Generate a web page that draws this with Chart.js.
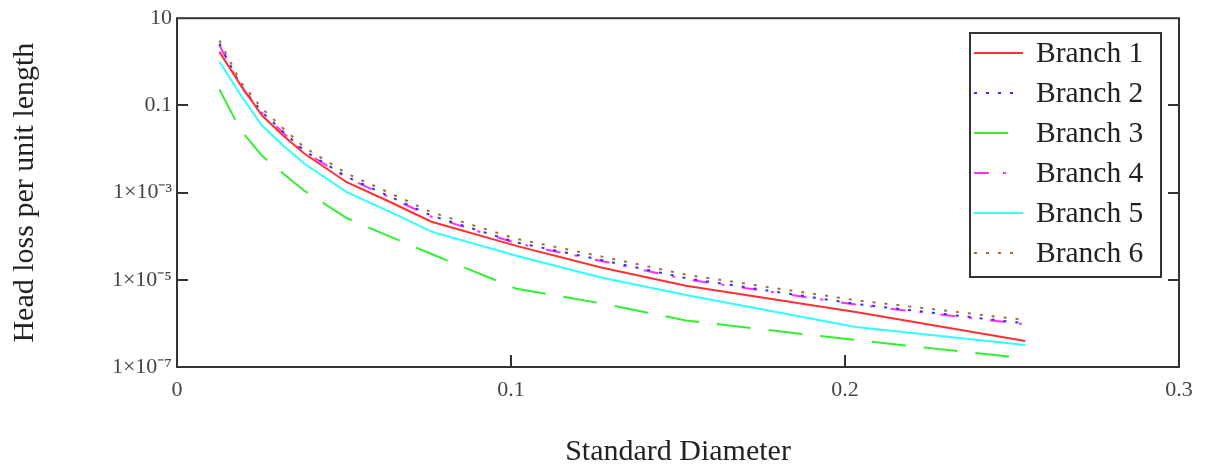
<!DOCTYPE html>
<html>
<head>
<meta charset="utf-8">
<script src="https://cdn.jsdelivr.net/npm/chart.js@4.4.1/dist/chart.umd.min.js"></script>
<style>
html,body{margin:0;padding:0;background:#fff;}
#wrap{width:1206px;height:470px;position:relative;}
</style>
</head>
<body>
<div id="wrap"><canvas id="c" width="1206" height="470"></canvas></div>
<script>
// ---- data ----
const diameters = [0.0127, 0.01905, 0.0254, 0.03175, 0.0381, 0.0508, 0.0635, 0.0762, 0.1016, 0.127, 0.1524, 0.2032, 0.254];
const branch1 = [1.69, 0.292, 0.0593, 0.0204, 0.00786, 0.00173, 6.24e-4, 2.15e-4, 5.99e-5, 1.91e-5, 7.3e-6, 1.83e-6, 3.96e-7];
const branch2 = [2.6, 0.285, 0.071, 0.025, 0.0091, 0.0023, 8.3e-4, 2.95e-4, 7.2e-5, 2.85e-5, 1.09e-5, 2.8e-6, 1.0e-6];
const branch3 = [0.231, 0.0273, 0.00705, 0.00273, 0.0011, 2.61e-4, 1.0e-4, 3.9e-5, 6.24e-6, 2.88e-6, 1.17e-6, 4.15e-7, 1.58e-7];
const branch4 = [2.4, 0.27, 0.068, 0.0237, 0.0086, 0.0022, 7.9e-4, 2.8e-4, 6.9e-5, 2.7e-5, 1.03e-5, 2.7e-6, 9.5e-7];
const branch5 = [1.0, 0.173, 0.0351, 0.0121, 0.00466, 0.00103, 3.7e-4, 1.27e-4, 3.55e-5, 1.13e-5, 4.49e-6, 8.3e-7, 3.21e-7];
const branch6 = [3.08, 0.342, 0.0855, 0.030, 0.0109, 0.00277, 9.96e-4, 3.55e-4, 8.7e-5, 3.44e-5, 1.31e-5, 3.4e-6, 1.2e-6];
const seriesNames = ['Branch 1', 'Branch 2', 'Branch 3', 'Branch 4', 'Branch 5', 'Branch 6'];
const xTickValues = [0, 0.1, 0.2, 0.3];
const xTickLabels = ['0', '0.1', '0.2', '0.3'];
const yTickValues = [1e-7, 1e-5, 1e-3, 0.1, 10];
const yTickLabels = ['1×10⁻⁷', '1×10⁻⁵', '1×10⁻³', '0.1', '10'];
const xTitle = 'Standard Diameter';
const yTitle = 'Head loss per unit length';

// ---- styles ----
const seriesValues = [branch1, branch2, branch3, branch4, branch5, branch6];
const seriesColors = ['#ff3030', '#3030ff', '#30f030', '#ff30ff', '#30ffff', '#a0703c'];
const seriesDash = [[], [3, 9], [34, 18], [15, 14, 3, 18], [], [3, 9]];
const legendSampleEnd = [1023, 1015, 1023, 1023, 1023, 1015];
const SERIF = '"Liberation Serif", "Times New Roman", serif';
const FRAME = '#333333';

const datasets = seriesNames.map((name, i) => ({
  label: name,
  data: diameters.map((d, k) => ({ x: d, y: seriesValues[i][k] })),
  borderColor: seriesColors[i],
  backgroundColor: seriesColors[i],
  borderWidth: 2,
  borderDash: seriesDash[i],
  pointRadius: 0,
  tension: 0,
  fill: false
}));

const framePlugin = {
  id: 'frame',
  afterDatasetsDraw(chart) {
    const { ctx, chartArea: a, scales } = chart;
    ctx.save();
    ctx.strokeStyle = FRAME;
    ctx.lineWidth = 2;
    ctx.setLineDash([]);
    ctx.strokeRect(a.left, a.top, a.right - a.left, a.bottom - a.top);
    // inward ticks
    ctx.beginPath();
    yTickValues.forEach(v => {
      if (v === yTickValues[0] || v === yTickValues[yTickValues.length - 1]) return;
      const y = Math.round(scales.y.getPixelForValue(v));
      ctx.moveTo(a.left, y); ctx.lineTo(a.left + 11, y);
      ctx.moveTo(a.right, y); ctx.lineTo(a.right - 11, y);
    });
    xTickValues.forEach(v => {
      if (v === xTickValues[0] || v === xTickValues[xTickValues.length - 1]) return;
      const x = Math.round(scales.x.getPixelForValue(v));
      ctx.moveTo(x, a.bottom); ctx.lineTo(x, a.bottom - 12);
    });
    ctx.stroke();

    // legend box
    const bx = 970, by = 33, bw = 191, bh = 244;
    ctx.fillStyle = '#ffffff';
    ctx.fillRect(bx, by, bw, bh);
    ctx.strokeRect(bx, by, bw, bh);
    chart.data.datasets.forEach((ds, i) => {
      const y = 53 + i * 40;
      ctx.strokeStyle = ds.borderColor;
      ctx.lineWidth = 2;
      ctx.setLineDash(ds.borderDash || []);
      ctx.beginPath();
      ctx.moveTo(974, y); ctx.lineTo(legendSampleEnd[i], y);
      ctx.stroke();
      ctx.setLineDash([]);
      ctx.fillStyle = '#222222';
      ctx.font = '29.5px ' + SERIF;
      ctx.textBaseline = 'middle';
      ctx.textAlign = 'left';
      ctx.fillText(ds.label, 1036, y + 1);
    });
    ctx.restore();
  }
};

new Chart(document.getElementById('c'), {
  type: 'line',
  data: { datasets },
  plugins: [framePlugin],
  options: {
    responsive: false,
    animation: false,
    devicePixelRatio: 1,
    layout: { padding: { top: 16, right: 27, left: 0, bottom: 0 } },
    plugins: { legend: { display: false }, tooltip: { enabled: false } },
    scales: {
      x: {
        type: 'linear',
        min: 0, max: 0.3,
        afterBuildTicks: s => { s.ticks = xTickValues.map(v => ({ value: v })); },
        afterFit: s => { s.height = 103; },
        grid: { display: false, drawTicks: false },
        border: { display: false },
        ticks: {
          autoSkip: false, maxRotation: 0, padding: 10,
          color: '#444444',
          font: { family: SERIF, size: 22 },
          callback: (v) => { const i = xTickValues.findIndex(t => Math.abs(t - v) < 1e-9); return i >= 0 ? xTickLabels[i] : ''; }
        },
        title: { display: true, text: xTitle, color: '#222222', font: { family: SERIF, size: 30 }, padding: { top: 0, bottom: 0 } }
      },
      y: {
        type: 'logarithmic',
        min: 1e-7, max: 10,
        afterBuildTicks: s => { s.ticks = yTickValues.map(v => ({ value: v })); },
        afterFit: s => { s.width = 177; },
        grid: { display: false, drawTicks: false },
        border: { display: false },
        ticks: {
          autoSkip: false, padding: 5,
          color: '#444444',
          font: { family: SERIF, size: 22 },
          callback: (v) => { const i = yTickValues.findIndex(t => Math.abs(Math.log10(t) - Math.log10(v)) < 1e-6); return i >= 0 ? yTickLabels[i] : ''; }
        },
        title: { display: true, text: yTitle, color: '#222222', font: { family: SERIF, size: 30 }, padding: { top: 7, bottom: 0 } }
      }
    }
  }
});
</script>
</body>
</html>
